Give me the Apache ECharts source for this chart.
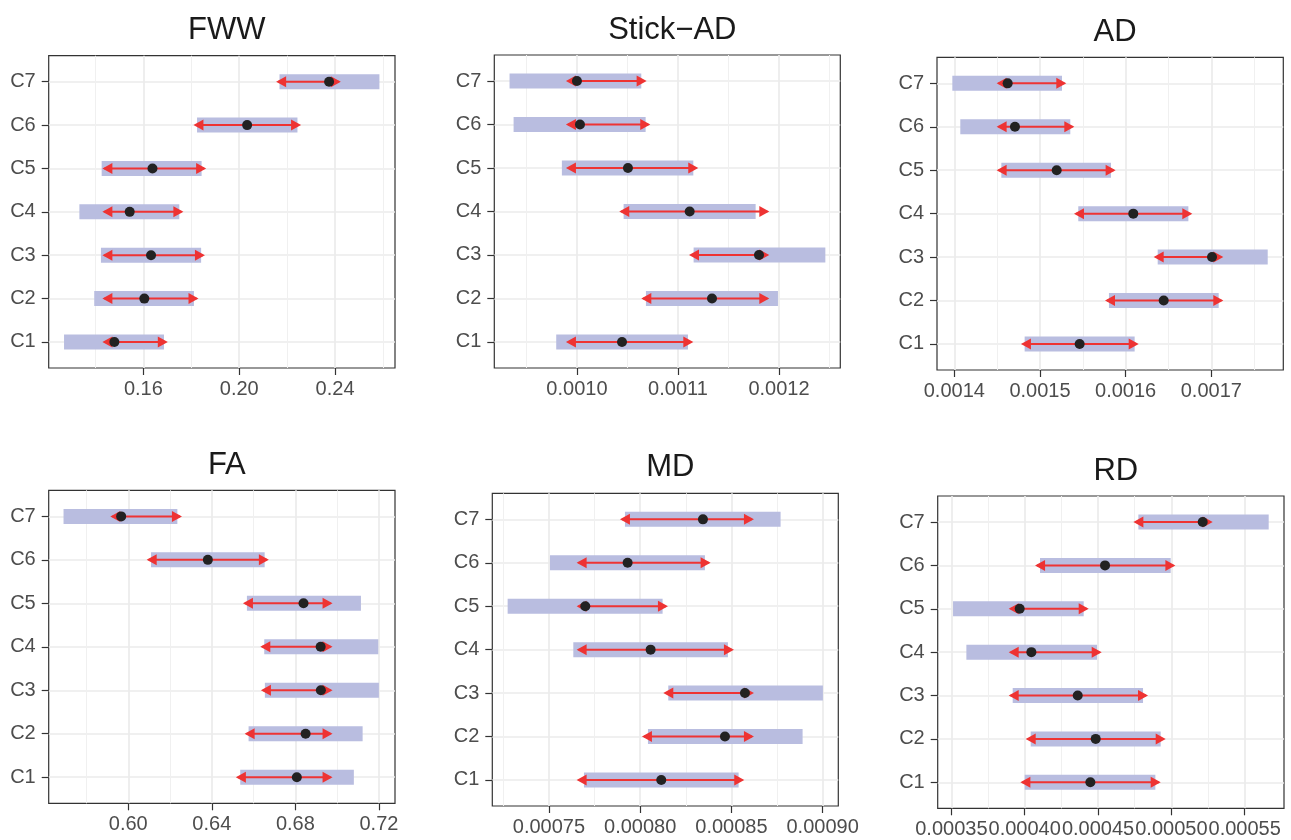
<!DOCTYPE html>
<html>
<head>
<meta charset="utf-8">
<script src="https://cdn.jsdelivr.net/npm/echarts@6/dist/echarts.min.js"></script>
<style>
html,body{margin:0;padding:0;background:#fff;}
#c{width:1291px;height:840px;}
</style>
</head>
<body>
<div id="c"></div>
<script>
// ---------- DATA (order: C1 ... C7) ----------
const categories = ['C1','C2','C3','C4','C5','C6','C7'];

const fwwPoint    = [0.1479, 0.1604, 0.1632, 0.1543, 0.1638, 0.2033, 0.2375];
const fwwBandLo   = [0.1269, 0.1395, 0.1423, 0.1333, 0.1426, 0.1824, 0.2168];
const fwwBandHi   = [0.1686, 0.1811, 0.1841, 0.1750, 0.1843, 0.2243, 0.2585];
const fwwArrowLo  = [0.1429, 0.1429, 0.1429, 0.1429, 0.1429, 0.1809, 0.2154];
const fwwArrowHi  = [0.1702, 0.1830, 0.1857, 0.1767, 0.1862, 0.2258, 0.2424];
const fwwTicks    = [0.16, 0.20, 0.24];
const fwwMinor    = [0.14, 0.18, 0.22, 0.26];

const stickPoint   = [0.0010446, 0.0011337, 0.0011802, 0.0011116, 0.0010505, 0.0010030, 0.0010000];
const stickBandLo  = [0.0009795, 0.0010683, 0.0011155, 0.0010462, 0.0009851, 0.0009373, 0.0009333];
const stickBandHi  = [0.0011099, 0.0011990, 0.0012459, 0.0011769, 0.0011152, 0.0010680, 0.0010637];
const stickArrowLo = [0.0009891, 0.0010637, 0.0011109, 0.0010419, 0.0009891, 0.0009891, 0.0009891];
const stickArrowHi = [0.0011152, 0.0011904, 0.0011904, 0.0011904, 0.0011201, 0.0010726, 0.0010690];
const stickTicks   = [0.0010, 0.0011, 0.0012];
const stickMinor   = [0.00095, 0.00105, 0.00115, 0.00125];

const adPoint   = [0.0015463, 0.0016444, 0.0017008, 0.0016089, 0.0015195, 0.0014708, 0.0014623];
const adBandLo  = [0.0014821, 0.0015805, 0.0016374, 0.0015447, 0.0014549, 0.0014070, 0.0013977];
const adBandHi  = [0.0016105, 0.0017086, 0.0017658, 0.0016732, 0.0015829, 0.0015354, 0.0015257];
const adArrowLo = [0.0014778, 0.0015759, 0.0016327, 0.0015397, 0.0014494, 0.0014494, 0.0014494];
const adArrowHi = [0.0016152, 0.0017140, 0.0017140, 0.0016778, 0.0015883, 0.0015401, 0.0015307];
const adTicks   = [0.0014, 0.0015, 0.0016, 0.0017];
const adMinor   = [0.00145, 0.00155, 0.00165, 0.00175];

const faPoint   = [0.6807, 0.6849, 0.6922, 0.6921, 0.6839, 0.6381, 0.5966];
const faBandLo  = [0.6536, 0.6576, 0.6654, 0.6651, 0.6568, 0.6109, 0.5690];
const faBandHi  = [0.7080, 0.7122, 0.7200, 0.7197, 0.7114, 0.6653, 0.6235];
const faArrowLo = [0.6515, 0.6557, 0.6635, 0.6632, 0.6549, 0.6088, 0.5914];
const faArrowHi = [0.6978, 0.6978, 0.6978, 0.6978, 0.6978, 0.6673, 0.6257];
const faTicks   = [0.60, 0.64, 0.68, 0.72];
const faMinor   = [0.58, 0.62, 0.66, 0.70];

const mdPoint   = [0.00081156, 0.00084646, 0.00085742, 0.00080572, 0.00076991, 0.00079311, 0.00083440];
const mdBandLo  = [0.00076918, 0.00080426, 0.00081540, 0.00076334, 0.00072735, 0.00075055, 0.00079165];
const mdBandHi  = [0.00085395, 0.00088902, 0.00090016, 0.00084810, 0.00081229, 0.00083549, 0.00087696];
const mdArrowLo = [0.00076516, 0.00080097, 0.00081266, 0.00076516, 0.00076516, 0.00076516, 0.00078891];
const mdArrowHi = [0.00085705, 0.00086235, 0.00086235, 0.00085139, 0.00081522, 0.00083860, 0.00086235];
const mdTicks   = [0.00075, 0.00080, 0.00085, 0.00090];
const mdMinor   = [0.000725, 0.000775, 0.000825, 0.000875];

const rdPoint   = [0.00044477, 0.00044841, 0.00043614, 0.00040455, 0.00039659, 0.00045477, 0.00052136];
const rdBandLo  = [0.00040000, 0.00040409, 0.00039182, 0.00036023, 0.00035114, 0.00041045, 0.00047750];
const rdBandHi  = [0.00048909, 0.00049273, 0.00048068, 0.00044932, 0.00044023, 0.00049955, 0.00056636];
const rdArrowLo = [0.00039705, 0.00040068, 0.00038909, 0.00038909, 0.00038909, 0.00040705, 0.00047409];
const rdArrowHi = [0.00049273, 0.00049614, 0.00048409, 0.00045250, 0.00044364, 0.00050273, 0.00052818];
const rdTicks   = [0.00035, 0.00040, 0.00045, 0.00050, 0.00055];
const rdMinor   = [0.000375, 0.000425, 0.000475, 0.000525];

const yTicks = [1, 2, 3, 4, 5, 6, 7];

// ---------- PANELS ----------
const panels = [
  {title:'FWW', point:fwwPoint, bLo:fwwBandLo, bHi:fwwBandHi, aLo:fwwArrowLo, aHi:fwwArrowHi, ticks:fwwTicks, minor:fwwMinor, min:0.1205, max:0.2650, dec:2,
   grid:{left:48.7, top:55.7, width:346.3, height:312.3}, titleTop:10},
  {title:'Stick\u2212AD', point:stickPoint, bLo:stickBandLo, bHi:stickBandHi, aLo:stickArrowLo, aHi:stickArrowHi, ticks:stickTicks, minor:stickMinor, min:0.0009182, max:0.0012607, dec:4,
   grid:{left:494.3, top:55, width:346, height:313}, titleTop:10},
  {title:'AD', point:adPoint, bLo:adBandLo, bHi:adBandHi, aLo:adArrowLo, aHi:adArrowHi, ticks:adTicks, minor:adMinor, min:0.0013798, max:0.0017840, dec:4,
   grid:{left:937, top:57.3, width:346.3, height:312.7}, titleTop:12},
  {title:'FA', point:faPoint, bLo:faBandLo, bHi:faBandHi, aLo:faArrowLo, aHi:faArrowHi, ticks:faTicks, minor:faMinor, min:0.5619, max:0.7277, dec:2,
   grid:{left:48.7, top:490.3, width:346.3, height:313}, titleTop:445},
  {title:'MD', point:mdPoint, bLo:mdBandLo, bHi:mdBandHi, aLo:mdArrowLo, aHi:mdArrowHi, ticks:mdTicks, minor:mdMinor, min:0.00071894, max:0.00090859, dec:5,
   grid:{left:492.3, top:493.3, width:346, height:312.7}, titleTop:447},
  {title:'RD', point:rdPoint, bLo:rdBandLo, bHi:rdBandHi, aLo:rdArrowLo, aHi:rdArrowHi, ticks:rdTicks, minor:rdMinor, min:0.00034068, max:0.0005768, dec:5,
   grid:{left:937.7, top:496, width:346.3, height:312.3}, titleTop:451}
];

const FONT = 'Liberation Sans, Arial, Helvetica, sans-serif';
const BAND = '#b9bde0';
const RED = '#ee3333';
const DOT = '#222222';

const option = {
  animation: false,
  backgroundColor: '#ffffff',
  title: [], grid: [], xAxis: [], yAxis: [], series: []
};

panels.forEach((p, i) => {
  option.title.push({
    text: p.title,
    left: p.grid.left + p.grid.width / 2,
    top: p.titleTop,
    textAlign: 'center',
    textStyle: {fontFamily: FONT, fontSize: 31, fontWeight: 'normal', color: '#1a1a1a'}
  });
  option.grid.push(Object.assign({
    show: true, borderColor: '#333333', borderWidth: 1.2, backgroundColor: '#ffffff',
    containLabel: false, outerBoundsMode: 'none'
  }, p.grid));
  // major x axis (labels, ticks, major grid)
  option.xAxis.push({
    type: 'value', gridIndex: i, min: p.min, max: p.max, position: 'bottom', z: 1,
    axisLine: {show: false},
    axisTick: {show: true, length: 7, lineStyle: {color: '#333333', width: 1.2}, customValues: p.ticks},
    axisLabel: {show: true, customValues: p.ticks, margin: 11, fontFamily: FONT, fontSize: 20, color: '#4d4d4d',
      formatter: v => Number(v).toFixed(p.dec)},
    splitLine: {show: true, lineStyle: {color: '#ebebeb', width: 1.7}}
  });
  // minor x axis (minor grid only)
  option.xAxis.push({
    type: 'value', gridIndex: i, min: p.min, max: p.max, position: 'bottom', z: 0,
    axisLine: {show: false},
    axisTick: {show: false, customValues: p.minor},
    axisLabel: {show: false, customValues: p.minor},
    splitLine: {show: true, lineStyle: {color: '#f0f0f0', width: 1}}
  });
  option.yAxis.push({
    type: 'value', gridIndex: i, min: 0.4, max: 7.6,
    axisLine: {show: false},
    axisTick: {show: true, length: 7, lineStyle: {color: '#333333', width: 1.2}, customValues: yTicks},
    axisLabel: {show: true, customValues: yTicks, margin: 13, fontFamily: FONT, fontSize: 20, color: '#4d4d4d',
      formatter: v => categories[Math.round(v) - 1]},
    splitLine: {show: true, lineStyle: {color: '#ebebeb', width: 1.7}}
  });

  const bandData = categories.map((c, k) => [p.bLo[k], p.bHi[k], k + 1]);
  const arrowData = categories.map((c, k) => [p.aLo[k], p.aHi[k], k + 1]);
  const pointData = categories.map((c, k) => [p.point[k], k + 1]);

  option.series.push({
    type: 'custom', xAxisIndex: 2 * i, yAxisIndex: i, encode: {x: [0, 1], y: 2},
    data: bandData, silent: true,
    renderItem: (params, api) => {
      const y = api.value(2);
      const a = api.coord([api.value(0), y]);
      const b = api.coord([api.value(1), y]);
      const h = 15;
      return {type: 'rect', shape: {x: a[0], y: a[1] - h / 2, width: b[0] - a[0], height: h}, style: {fill: BAND}};
    }
  });
  option.series.push({
    type: 'scatter', xAxisIndex: 2 * i, yAxisIndex: i, data: pointData,
    symbol: 'circle', symbolSize: 10, itemStyle: {color: DOT, opacity: 1}, silent: true
  });
  option.series.push({
    type: 'custom', xAxisIndex: 2 * i, yAxisIndex: i, encode: {x: [0, 1], y: 2},
    data: arrowData, silent: true,
    renderItem: (params, api) => {
      const y = api.value(2);
      const a = api.coord([api.value(0), y]);
      const b = api.coord([api.value(1), y]);
      const L = 10, H = 5.5;
      return {type: 'group', children: [
        {type: 'line', shape: {x1: a[0] + 2, y1: a[1], x2: b[0] - 2, y2: b[1]}, style: {stroke: RED, lineWidth: 2}},
        {type: 'polygon', shape: {points: [[a[0], a[1]], [a[0] + L, a[1] - H], [a[0] + L, a[1] + H]]}, style: {fill: RED}},
        {type: 'polygon', shape: {points: [[b[0], b[1]], [b[0] - L, b[1] - H], [b[0] - L, b[1] + H]]}, style: {fill: RED}}
      ]};
    }
  });
});

const chart = echarts.init(document.getElementById('c'), null, {renderer: 'canvas', width: 1291, height: 840});
chart.setOption(option);
</script>
</body>
</html>
